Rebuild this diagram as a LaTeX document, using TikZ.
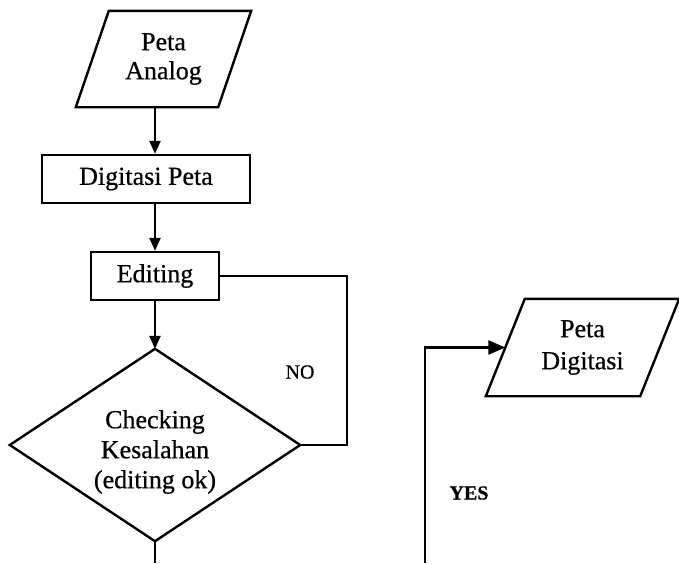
\documentclass[tikz,border=0pt]{standalone}
\usepackage{fontspec}
\setmainfont{Liberation Serif}[FakeBold=0.6]
\usetikzlibrary{arrows.meta,calc}
\begin{document}
\begin{tikzpicture}[x=1pt,y=-1pt,
  line width=2.4pt,
  txt/.style={align=center, inner sep=0pt, font=\fontsize{26}{29}\selectfont},
  boxnode/.style={txt, draw, minimum width=#1, minimum height=48pt},
  lbl/.style={inner sep=0pt, font=\fontsize{20}{24}\selectfont},
  flow/.style={-{Triangle[length=13pt,width=11pt]}},
  bigflow/.style={-{Triangle[length=17pt,width=14pt]}},
]
\useasboundingbox (0,0) rectangle (679,563);

% input map
\node[txt, minimum width=173pt, minimum height=94pt] (pa) at (163.5,59) {Peta\\Analog};
\draw (pa.south west) -- ([xshift=33pt]pa.north west) -- (pa.north east)
      -- ([xshift=-33pt]pa.south east) -- cycle;

% processing steps
\node[boxnode=208pt] (dp) at (146,179) {Digitasi Peta};
\node[boxnode=128pt] (ed) at (155,276) {Editing};

% decision: outline node and its text
\node[minimum width=288pt, minimum height=190pt, inner sep=0pt] (ck) at (155,445) {};
\draw (ck.north) -- (ck.east) -- (ck.south) -- (ck.west) -- cycle;
\node[txt, font=\fontsize{26}{30}\selectfont] (ckt) at (155,452) {Checking\\Kesalahan\\(editing ok)};

% output map
\node[txt, minimum width=191pt, minimum height=95pt,
      font=\fontsize{26}{32}\selectfont] (pd) at (582.5,347.5) {Peta\\Digitasi};
\draw (pd.south west) -- ([xshift=39pt]pd.north west) -- (pd.north east)
      -- ([xshift=-39pt]pd.south east) -- cycle;

% main flow
\draw[flow] (pa.south -| ed.north) -- (dp.north -| ed.north);
\draw[flow] (dp.south -| ed.north) -- (ed.north);
\draw[flow] (ed.south) -- (ck.north);

% correction loop
\coordinate (nocol) at (347,277);
\draw (ed.east) -- (ed.east -| nocol) |- (ck.east);
\node[lbl] (no) at (300,372) {NO};

% continuation below the decision
\coordinate (ckend) at (155,563);
\draw (ck.south) -- (ckend);

% accepted branch into the output
\coordinate (yesend) at (425,563);
\coordinate (pdin) at ($(pd.west)+(19.5,0)$);
\draw[bigflow] (yesend) |- (pdin);
\node[lbl, font=\fontsize{20}{24}\selectfont\bfseries] (yes) at (469,493) {YES};
\end{tikzpicture}
\end{document}
